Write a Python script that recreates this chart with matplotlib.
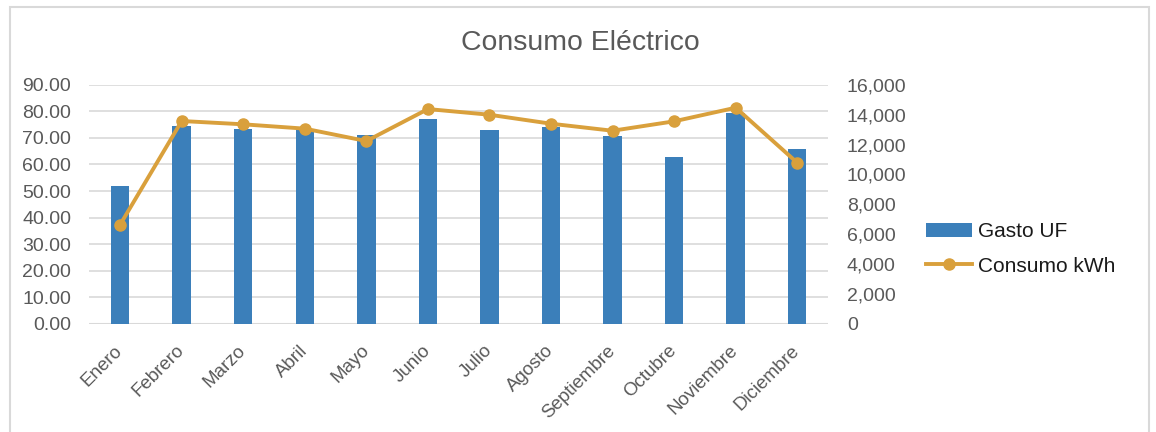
import numpy as np
import matplotlib.pyplot as plt
import matplotlib.transforms as mtransforms
from matplotlib.patches import Rectangle

plt.rcParams["font.family"] = ["Liberation Sans", "DejaVu Sans"]

meses = ["Enero", "Febrero", "Marzo", "Abril", "Mayo", "Junio", "Julio",
         "Agosto", "Septiembre", "Octubre", "Noviembre", "Diciembre"]
gasto_uf = [52.0, 74.5, 73.2, 73.0, 71.1, 77.1, 72.8, 74.1, 70.7, 62.7, 79.2, 65.7]
consumo_kwh = [6640, 13570, 13350, 13060, 12230, 14370, 13990, 13390, 12920, 13550, 14460, 10780]

bar_color = "#3b7fba"
line_color = "#d9a03c"
grid_color = "#d9d9d9"
text_gray = "#595959"

fig = plt.figure(figsize=(11.56, 4.32), dpi=100)
ax = fig.add_axes([0.0773, 0.25, 0.639, 0.554])
ax2 = ax.twinx()

x = np.arange(len(meses))
bars = ax.bar(x, gasto_uf, width=0.30, color=bar_color, label="Gasto UF", zorder=2)
line, = ax2.plot(x, consumo_kwh, color=line_color, lw=2.8, marker="o", markersize=8,
                 label="Consumo kWh", zorder=3)

ax.set_xlim(-0.5, len(meses) - 0.5)
ax.set_ylim(0, 90)
ax.set_yticks(np.arange(0, 91, 10))
ax.set_yticklabels([f"{v:.2f}" for v in np.arange(0, 91, 10)])
ax2.set_ylim(0, 16000)
ax2.set_yticks(np.arange(0, 16001, 2000))
ax2.set_yticklabels([f"{v:,}" for v in range(0, 16001, 2000)])

# Excel-style rotated month labels, placed by hand so they can be nudged
ax.set_xticks(x)
ax.set_xticklabels([])
trans = mtransforms.blended_transform_factory(ax.transData, ax.transAxes)
trans = trans + mtransforms.ScaledTranslation(-6 / 100, -18 / 100, fig.dpi_scale_trans)
for i, m in enumerate(meses):
    ax.text(x[i], 0, m, transform=trans, rotation=45, ha="right", va="top",
            rotation_mode="anchor", fontsize=13.5, color=text_gray)

ax.grid(axis="y", color=grid_color, lw=1.2, zorder=0)
ax.set_axisbelow(True)
for a in (ax, ax2):
    for s in ("top", "left", "right", "bottom"):
        a.spines[s].set_visible(False)
ax.axhline(0, color=grid_color, lw=1.5, zorder=1)

ax.tick_params(axis="y", length=0, labelsize=14, labelcolor=text_gray, pad=13)
ax.tick_params(axis="x", length=0)
ax2.tick_params(axis="y", length=0, labelsize=14, labelcolor=text_gray, pad=13.5)

fig.text(0.502, 0.884, "Consumo Eléctrico", ha="center", va="baseline",
         fontsize=20.4, color=text_gray)

fig.legend([bars, line], ["Gasto UF", "Consumo kWh"], loc="center left",
           bbox_to_anchor=(926 / 1156, 1 - 249 / 432), frameon=False, fontsize=15,
           handlelength=2.2, handletextpad=0.3, labelspacing=0.73,
           borderpad=0, borderaxespad=0, labelcolor="#1a1a1a")

# light grey chart frame
fig.add_artist(Rectangle((10 / 1156, -0.05), 1139 / 1156, 1 - 7 / 432 + 0.05,
                         transform=fig.transFigure, fill=False,
                         edgecolor=grid_color, lw=1.5))

fig.savefig("out.png", dpi=100)
